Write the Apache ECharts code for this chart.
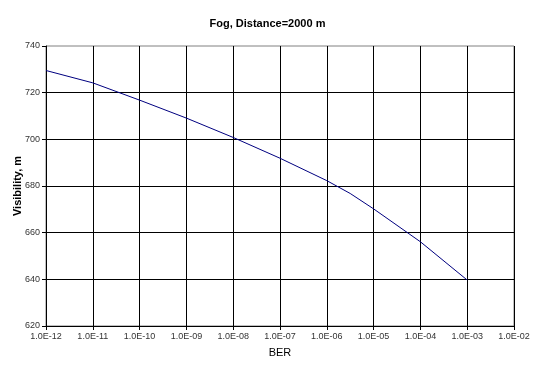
<!DOCTYPE html>
<html>
<head>
<meta charset="utf-8">
<script src="https://cdn.jsdelivr.net/npm/echarts@6/dist/echarts.min.js"></script>
<style>html,body{margin:0;padding:0;background:#fff}#c{width:535px;height:365px}</style>
</head>
<body>
<div id="c"></div>
<script>
var titleText = 'Fog, Distance=2000 m';
var xAxisName = 'BER';
var yAxisName = 'Visibility, m';
var berValues = [1e-12, 1e-11, 1e-10, 1e-9, 1e-8, 1e-7, 1e-6, 3.16e-6, 1e-5, 1e-4, 1e-3];
var visibilityValues = [729.5, 724.2, 716.8, 709.1, 700.8, 691.9, 682.3, 676.8, 670.2, 656.1, 639.7];
var yTicks = [620, 640, 660, 680, 700, 720, 740];

var chart = echarts.init(document.getElementById('c'));
var pts = berValues.map(function (b, i) { return [b, visibilityValues[i]]; });
function fmtE(v) {
  var e = Math.round(Math.log10(v));
  var s = Math.abs(e) < 10 ? '0' + Math.abs(e) : '' + Math.abs(e);
  return '1.0E' + (e < 0 ? '-' : '+') + s;
}
chart.setOption({
  animation: false,
  backgroundColor: '#fff',
  title: {
    text: titleText, left: 'center', top: 13,
    textStyle: { fontFamily: 'Liberation Sans, Arial', fontSize: 11, fontWeight: 'bold', color: '#000' }
  },
  grid: { left: 46, right: 21, top: 46, bottom: 39, show: true, borderColor: '#808080', borderWidth: 1,
          containLabel: false, outerBoundsMode: 'none' },
  xAxis: {
    type: 'log', logBase: 10, min: 1e-12, max: 1e-2,
    name: xAxisName, nameLocation: 'middle', nameGap: 21, nameMoveOverlap: false,
    nameTextStyle: { fontFamily: 'Liberation Sans, Arial', fontSize: 11, color: '#000' },
    axisLine: { lineStyle: { color: '#000', width: 1 } },
    axisTick: { show: true, length: 4, lineStyle: { color: '#000' } },
    minorTick: { show: false },
    axisLabel: { formatter: fmtE, fontFamily: 'Liberation Sans, Arial', fontSize: 9, color: '#333', margin: 6 },
    splitLine: { show: true, showMinLine: false, showMaxLine: false, lineStyle: { color: '#000', width: 1 } }
  },
  yAxis: {
    type: 'value', min: yTicks[0], max: yTicks[yTicks.length - 1], interval: 20,
    name: yAxisName, nameLocation: 'middle', nameGap: 23, nameRotate: 90, nameMoveOverlap: false,
    nameTextStyle: { fontFamily: 'Liberation Sans, Arial', fontSize: 11, fontWeight: 'bold', color: '#000' },
    axisLine: { show: true, lineStyle: { color: '#000', width: 1 } },
    axisTick: { show: true, length: 4, lineStyle: { color: '#000' } },
    axisLabel: { fontFamily: 'Liberation Sans, Arial', fontSize: 9, color: '#333', margin: 6 },
    splitLine: { show: true, showMinLine: false, showMaxLine: false, lineStyle: { color: '#000', width: 1 } }
  },
  series: [{
    type: 'line', data: pts, showSymbol: false, symbol: 'none',
    lineStyle: { color: '#000080', width: 1 }, smooth: false
  }]
});
</script>
</body>
</html>
